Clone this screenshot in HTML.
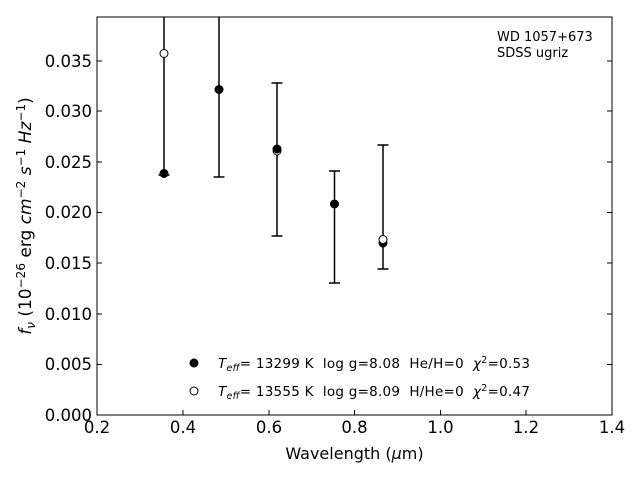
<!DOCTYPE html>
<html><head><meta charset="utf-8"><style>body{margin:0;background:#fff}svg{display:block}text{white-space:pre}</style></head><body>
<svg width="640" height="480" xmlns="http://www.w3.org/2000/svg" font-family="DejaVu Sans, Liberation Sans, sans-serif">
<rect width="640" height="480" fill="#fff"/>
<g stroke="#000" stroke-width="1.5" fill="none">
<line x1="164" y1="17" x2="164" y2="175"/><line x1="158.5" y1="175" x2="169.5" y2="175"/>
<line x1="219" y1="17" x2="219" y2="177"/><line x1="213.5" y1="177" x2="224.5" y2="177"/>
<line x1="277" y1="83" x2="277" y2="236"/><line x1="271.5" y1="83" x2="282.5" y2="83"/><line x1="271.5" y1="236" x2="282.5" y2="236"/>
<line x1="334.5" y1="171" x2="334.5" y2="283"/><line x1="329" y1="171" x2="340" y2="171"/><line x1="329" y1="283" x2="340" y2="283"/>
<line x1="383" y1="145" x2="383" y2="269"/><line x1="377.5" y1="145" x2="388.5" y2="145"/><line x1="377.5" y1="269" x2="388.5" y2="269"/>
</g>
<g fill="#fff" stroke="#000">
<circle cx="164" cy="53.5" r="4"/><circle cx="277" cy="151" r="4"/>
</g>
<g fill="#000" stroke="#000">
<circle cx="164" cy="173.5" r="4"/><circle cx="219" cy="89.5" r="4"/><circle cx="277" cy="149" r="4"/><circle cx="334.5" cy="204" r="4"/><circle cx="383" cy="243" r="4"/>
</g>
<circle cx="383" cy="239.5" r="4" fill="#fff" stroke="#000"/>
<rect x="97" y="17" width="515" height="398" fill="none" stroke="#000" stroke-width="1"/>
<g stroke="#000" stroke-width="1">
<line x1="97" y1="415" x2="97" y2="410"/><line x1="183" y1="415" x2="183" y2="410"/><line x1="269" y1="415" x2="269" y2="410"/><line x1="354.5" y1="415" x2="354.5" y2="410"/><line x1="440.5" y1="415" x2="440.5" y2="410"/><line x1="526" y1="415" x2="526" y2="410"/><line x1="612" y1="415" x2="612" y2="410"/>
<line x1="97" y1="415" x2="102" y2="415"/><line x1="97" y1="364.5" x2="102" y2="364.5"/><line x1="97" y1="314" x2="102" y2="314"/><line x1="97" y1="263" x2="102" y2="263"/><line x1="97" y1="212.5" x2="102" y2="212.5"/><line x1="97" y1="162" x2="102" y2="162"/><line x1="97" y1="111" x2="102" y2="111"/><line x1="97" y1="61" x2="102" y2="61"/>
<line x1="612" y1="415" x2="607" y2="415"/><line x1="612" y1="364.5" x2="607" y2="364.5"/><line x1="612" y1="314" x2="607" y2="314"/><line x1="612" y1="263" x2="607" y2="263"/><line x1="612" y1="212.5" x2="607" y2="212.5"/><line x1="612" y1="162" x2="607" y2="162"/><line x1="612" y1="111" x2="607" y2="111"/><line x1="612" y1="61" x2="607" y2="61"/>
</g>
<g font-size="16.5" text-anchor="middle">
<text x="97" y="433">0.2</text><text x="183" y="433">0.4</text><text x="269" y="433">0.6</text><text x="354.5" y="433">0.8</text><text x="440.5" y="433">1.0</text><text x="526" y="433">1.2</text><text x="612" y="433">1.4</text>
</g>
<g font-size="16.5" text-anchor="end">
<text x="92" y="421">0.000</text><text x="92" y="370">0.005</text><text x="92" y="320">0.010</text><text x="92" y="269">0.015</text><text x="92" y="218">0.020</text><text x="92" y="168">0.025</text><text x="92" y="117">0.030</text><text x="92" y="67">0.035</text>
</g>
<text x="354.5" y="459" font-size="16" text-anchor="middle">Wavelength (<tspan font-style="italic">μ</tspan>m)</text>
<text transform="translate(31,216) rotate(-90)" font-size="17" text-anchor="middle"><tspan font-style="italic">f</tspan><tspan font-style="italic" font-size="12" dy="4">ν</tspan><tspan dy="-4"> (10</tspan><tspan font-size="12" dy="-6">−26</tspan><tspan dy="6"> erg </tspan><tspan font-style="italic">cm</tspan><tspan font-size="12" dy="-6">−2</tspan><tspan dy="6"> </tspan><tspan font-style="italic">s</tspan><tspan font-size="12" dy="-6">−1</tspan><tspan dy="6"> </tspan><tspan font-style="italic">Hz</tspan><tspan font-size="12" dy="-6">−1</tspan><tspan dy="6">)</tspan></text>
<text x="497" y="41" font-size="13">WD 1057+673</text>
<text x="497" y="57" font-size="13">SDSS ugriz</text>
<circle cx="194" cy="363" r="4" fill="#000" stroke="#000"/>
<circle cx="194" cy="391" r="4" fill="#fff" stroke="#000"/>
<text x="218" y="368" font-size="13.5" textLength="312" lengthAdjust="spacing"><tspan font-style="italic">T</tspan><tspan font-style="italic" font-size="9.5" dy="3">eff</tspan><tspan dy="-3">= 13299 K  log g=8.08  He/H=0  </tspan><tspan font-style="italic">χ</tspan><tspan font-size="9.5" dy="-5">2</tspan><tspan dy="5">=0.53</tspan></text>
<text x="218" y="396" font-size="13.5" textLength="312" lengthAdjust="spacing"><tspan font-style="italic">T</tspan><tspan font-style="italic" font-size="9.5" dy="3">eff</tspan><tspan dy="-3">= 13555 K  log g=8.09  H/He=0  </tspan><tspan font-style="italic">χ</tspan><tspan font-size="9.5" dy="-5">2</tspan><tspan dy="5">=0.47</tspan></text>
</svg>
</body></html>
